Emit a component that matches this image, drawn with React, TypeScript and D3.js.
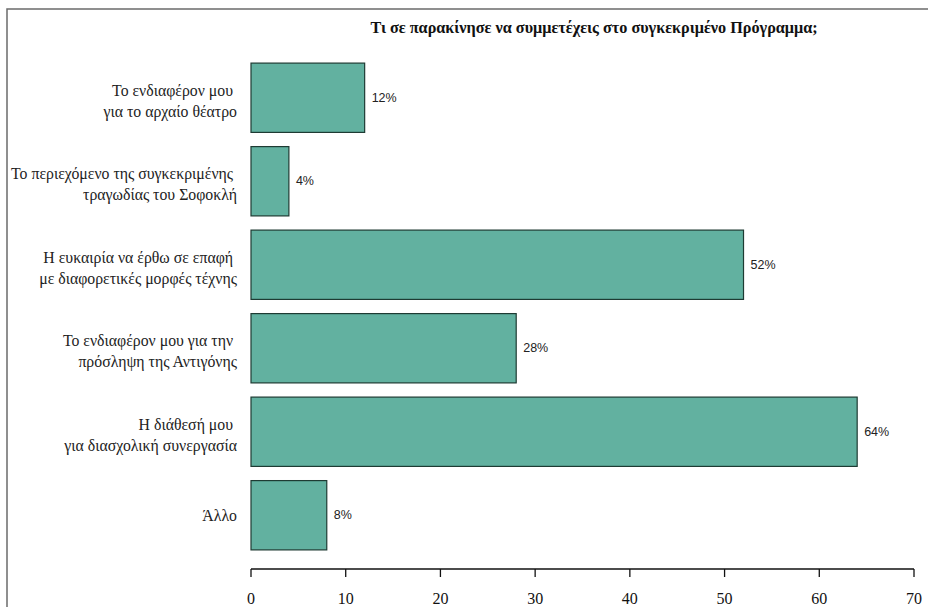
import React from 'react';
import * as d3 from 'd3';

const title = 'Τι σε παρακίνησε να συμμετέχεις στο συγκεκριμένο Πρόγραμμα;';

const categories = [
  ['Το ενδιαφέρον μου ', 'για το αρχαίο θέατρο'],
  ['Το περιεχόμενο της συγκεκριμένης ', 'τραγωδίας του Σοφοκλή'],
  ['Η ευκαιρία να έρθω σε επαφή ', 'με διαφορετικές μορφές τέχνης'],
  ['Το ενδιαφέρον μου για την ', 'πρόσληψη της Αντιγόνης'],
  ['Η διάθεσή μου ', 'για διασχολική συνεργασία'],
  ['Άλλο'],
];

const values = [12, 4, 52, 28, 64, 8];

const xTicks = [0, 10, 20, 30, 40, 50, 60, 70];

const serif = "'Liberation Serif'";
const sans = "'Liberation Sans'";

export default function App() {
  const width = 928;
  const height = 607;
  const axisY = 569;

  const x = d3.scaleLinear().domain([0, 70]).range([251, 914]);
  const y = d3
    .scaleBand<number>()
    .domain(d3.range(values.length))
    .range([56, 557])
    .paddingInner(0.17)
    .paddingOuter(0.085);

  return (
    <svg
      width={width}
      height={height}
      style={{ position: 'absolute', left: 0, top: 0, background: '#fff' }}
    >
      {/* frame */}
      <rect x={7} y={9} width={940} height={620} fill="none" stroke="#6b6b6b" strokeWidth={1.5} />

      <text
        x={594}
        y={33}
        textAnchor="middle"
        style={{ fontFamily: serif, fontWeight: 'bold', fontSize: 16.2 }}
        fill="#111"
      >
        {title}
      </text>

      {values.map((v, i) => {
        const yy = y(i)!;
        const bh = y.bandwidth();
        const cy = yy + bh / 2;
        const lines = categories[i];
        return (
          <g key={i}>
            <rect
              x={x(0)}
              y={yy}
              width={x(v) - x(0)}
              height={bh}
              fill="#62b1a0"
              stroke="#1e3b33"
              strokeWidth={1.2}
            />
            <text
              x={x(v) + 7}
              y={cy + 4}
              style={{ fontFamily: sans, fontSize: 12.5 }}
              fill="#222"
            >
              {v}%
            </text>
            {lines.length === 1 ? (
              <text
                x={237}
                y={cy + 6}
                textAnchor="end"
                style={{ fontFamily: serif, fontSize: 15.8 }}
                fill="#222"
              >
                {lines[0]}
              </text>
            ) : (
              lines.map((ln, j) => (
                <text
                  key={j}
                  x={237}
                  y={cy - 2 + j * 21}
                  textAnchor="end"
                  style={{ fontFamily: serif, fontSize: 15.8, whiteSpace: 'pre' }}
                  fill="#222"
                >
                  {ln}
                </text>
              ))
            )}
          </g>
        );
      })}

      {/* x axis */}
      <line x1={x(0)} x2={x(70)} y1={axisY} y2={axisY} stroke="#111" strokeWidth={1.5} />
      {xTicks.map((t) => (
        <g key={t}>
          <line x1={x(t)} x2={x(t)} y1={axisY} y2={axisY + 8} stroke="#111" strokeWidth={1.3} />
          <text
            x={x(t)}
            y={604}
            textAnchor="middle"
            style={{ fontFamily: serif, fontSize: 16 }}
            fill="#111"
          >
            {t}
          </text>
        </g>
      ))}
    </svg>
  );
}
